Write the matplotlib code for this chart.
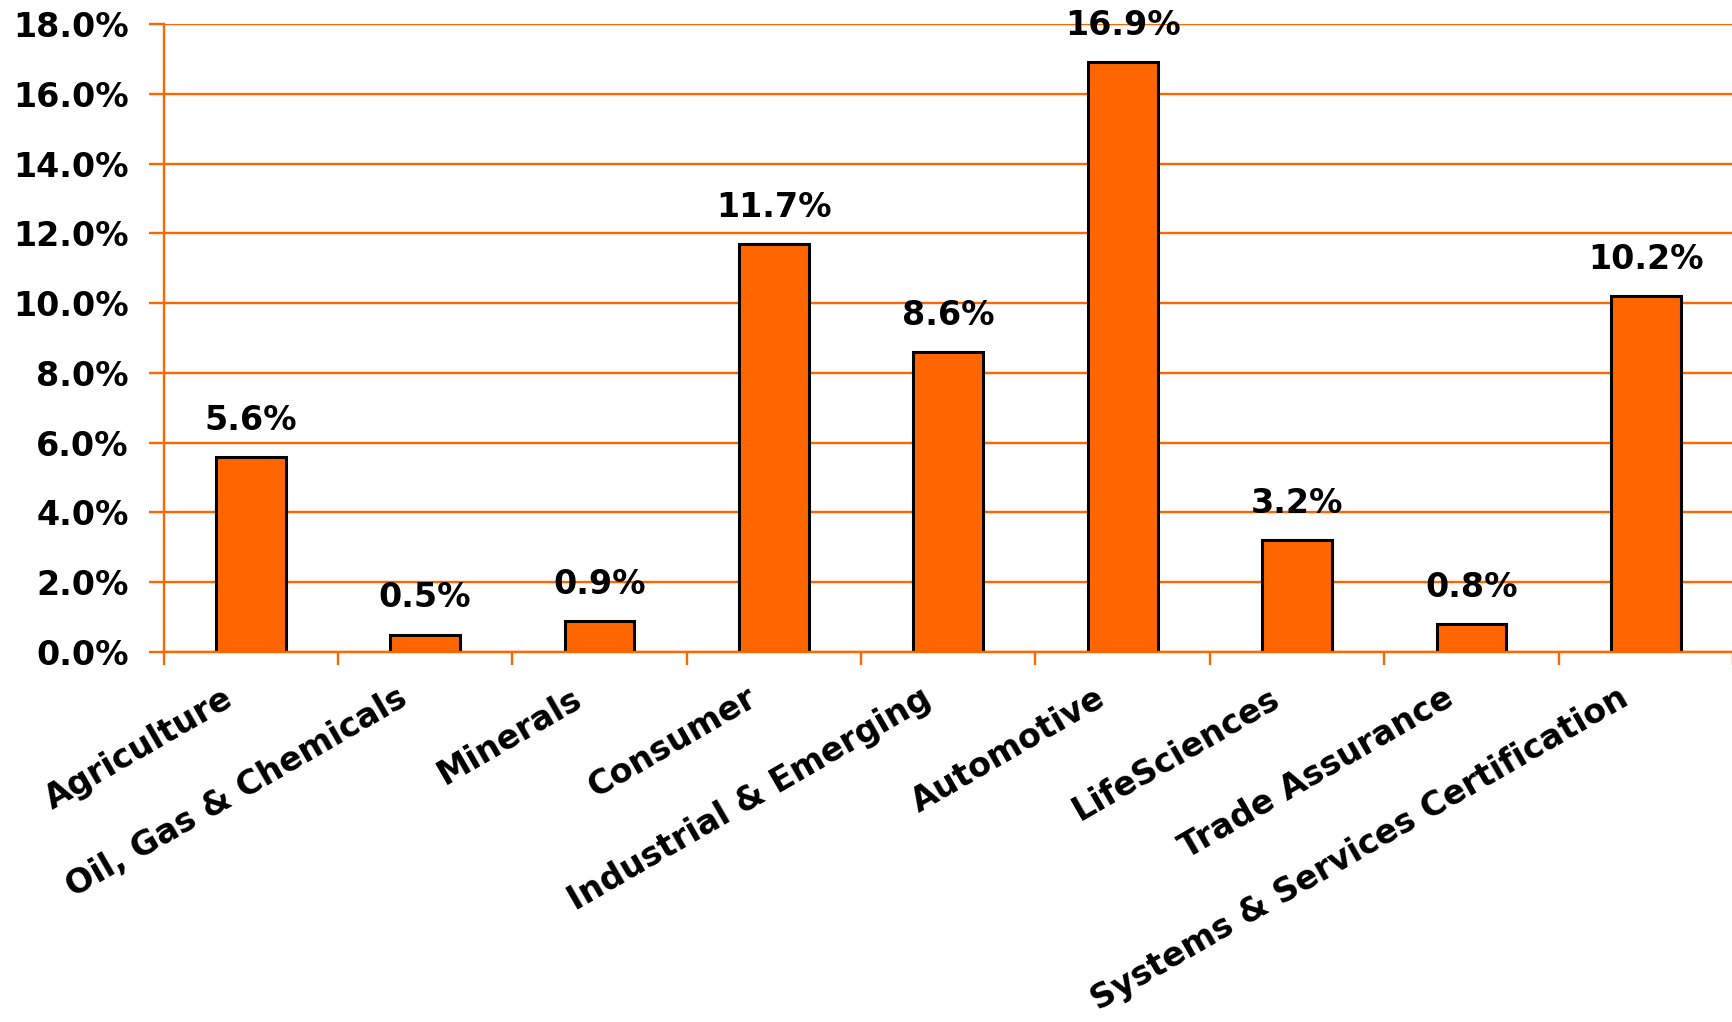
import numpy as np
import matplotlib.pyplot as plt
import matplotlib.transforms as mtransforms

# Growth by business line (%)
categories = ['Agriculture', 'Oil, Gas & Chemicals', 'Minerals', 'Consumer',
              'Industrial & Emerging', 'Automotive', 'LifeSciences',
              'Trade Assurance', 'Systems & Services Certification']
growth = [5.6, 0.5, 0.9, 11.7, 8.6, 16.9, 3.2, 0.8, 10.2]
y_ticks = [0, 2, 4, 6, 8, 10, 12, 14, 16, 18]

ORANGE = '#FF6600'
DPI = 100

fig = plt.figure(figsize=(1733 / DPI, 1022 / DPI), dpi=DPI)
ax = fig.add_axes([163.5 / 1733, 1 - 652 / 1022, 1 - 163.5 / 1733, (652 - 24) / 1022])

x = np.arange(len(categories))
bars = ax.bar(x, growth, width=0.4, color=ORANGE, edgecolor='black',
              linewidth=2.2, zorder=2)

ax.set_xlim(-0.5, len(categories) - 0.5)
ax.set_ylim(0, 18)

# y axis: orange gridlines, outward ticks
ax.set_yticks(y_ticks)
ax.set_yticklabels([f'{v:.1f}%' for v in y_ticks], fontsize=24, fontweight='bold')
ax.yaxis.grid(True, color=ORANGE, linewidth=1.7, zorder=0)
ax.set_axisbelow(True)
ax.tick_params(axis='y', length=11, width=1.7, color=ORANGE, pad=14)

# x axis: ticks between categories, labels drawn separately
ax.set_xticks(np.arange(len(categories) + 1) - 0.5)
ax.set_xticklabels([])
ax.tick_params(axis='x', length=9.5, width=1.7, color=ORANGE)

for side in ['top', 'right']:
    ax.spines[side].set_visible(False)
for side in ['left', 'bottom']:
    ax.spines[side].set_color(ORANGE)
    ax.spines[side].set_linewidth(1.7)
    ax.spines[side].set_zorder(3)

# rotated category labels under each bar
offset = mtransforms.ScaledTranslation(-20 / DPI, -44 / DPI, fig.dpi_scale_trans)
for i, name in enumerate(categories):
    ax.text(i, 0, name, transform=ax.transData + offset, rotation=30,
            rotation_mode='anchor', ha='right', va='center',
            fontsize=24, fontweight='bold', clip_on=False)

# value labels above bars
for rect, v in zip(bars, growth):
    ax.annotate(f'{v:.1f}%', (rect.get_x() + rect.get_width() / 2, v),
                xytext=(0, 19.5), textcoords='offset points',
                ha='center', va='baseline', fontsize=24, fontweight='bold',
                annotation_clip=False)

fig.savefig('out.png', dpi=DPI)
